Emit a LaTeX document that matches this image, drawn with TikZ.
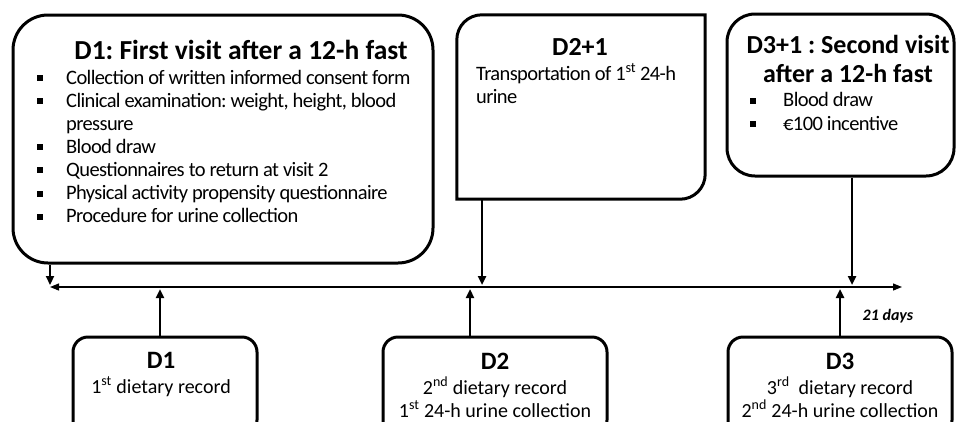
\documentclass[tikz,border=0pt]{standalone}
\usepackage{fontspec}
\setmainfont{Carlito}
\newfontfamily\bodyfont[LetterSpace=-3]{Carlito}
\usetikzlibrary{arrows.meta}
\newcommand\bsq{\rule[3pt]{6pt}{6pt}}
\tikzset{
  box/.style={draw=black, line width=3pt, inner sep=0pt},
  arr/.style={line width=2.4pt, -{Triangle[width=8pt,length=9pt]}},
  tl/.style={line width=1.2pt, {Triangle[width=7pt,length=9pt]}-{Triangle[width=7pt,length=9pt]}},
  txt/.style={inner sep=0pt, anchor=base west, font=\bodyfont\fontsize{20.5}{23}\selectfont},
  ttl/.style={inner sep=0pt, anchor=base, font=\fontsize{27.5}{30}\selectfont\bfseries},
  ttlb/.style={inner sep=0pt, anchor=base, font=\fontsize{26}{30}\selectfont\bfseries},
  bt/.style={inner sep=0pt, anchor=base, font=\fontsize{25}{26}\selectfont\bfseries},
  bl/.style={inner sep=0pt, anchor=base, font=\fontsize{20}{23}\selectfont},
}
\begin{document}
\frenchspacing
\begin{tikzpicture}[x=1pt,y=-1pt]
\useasboundingbox (0,0) rectangle (957,421);
\clip (0,0) rectangle (957,421);
% top boxes
\node[box, rounded corners=35pt, minimum width=420pt, minimum height=248pt] (v1) at (223,139) {};
\node[inner sep=0pt, minimum width=248pt, minimum height=184pt] (v2) at (581,107) {};
\draw[line width=3pt] (v2.south west) -- ([yshift=-25pt]v2.north west) arc[start angle=180,end angle=90,radius=25pt] -- (v2.north east) -- ([yshift=25pt]v2.south east) arc[start angle=0,end angle=-90,radius=25pt] -- cycle;
\node[box, rounded corners=28pt, minimum width=227pt, minimum height=162pt] (v3) at (840.5,95) {};
% box 1 text
\node[ttl] (t1) at (241,59) {D1: First visit after a 12-h fast};
\node[txt] (l1) at (37,84) {\makebox[29pt][l]{\bsq}Collection of written informed consent form};
\node[txt] (l2) at (37,107.1) {\makebox[29pt][l]{\bsq}Clinical examination: weight, height, blood};
\node[txt] (l3) at (66,130.2) {pressure};
\node[txt] (l4) at (37,153.3) {\makebox[29pt][l]{\bsq}Blood draw};
\node[txt] (l5) at (37,176.4) {\makebox[29pt][l]{\bsq}Questionnaires to return at visit 2};
\node[txt] (l6) at (37,199.5) {\makebox[29pt][l]{\bsq}Physical activity propensity questionnaire};
\node[txt] (l7) at (37,222.6) {\makebox[29pt][l]{\bsq}Procedure for urine collection};
% box 2 text
\node[ttlb] (t2) at (580,55) {D2+1};
\node[txt] (p1) at (476,80) {Transportation of 1\textsuperscript{st} 24-h};
\node[txt] (p2) at (476,103.5) {urine};
% box 3 text
\node[ttlb] (t3a) at (848,53.3) {D3+1 : Second visit};
\node[ttlb] (t3b) at (848,82) {after a 12-h fast};
\node[txt] (q1) at (750,106.7) {\makebox[33pt][l]{\bsq}Blood draw};
\node[txt] (q2) at (750,130) {\makebox[33pt][l]{\bsq}€100 incentive};
% bottom boxes
\node[box, rounded corners=15pt, minimum width=184pt, minimum height=98pt] (b1) at (165,386) {};
\node[box, rounded corners=15pt, minimum width=224pt, minimum height=98pt] (b2) at (495,386) {};
\node[box, rounded corners=15pt, minimum width=224pt, minimum height=98pt] (b3) at (840,386) {};
\node[bt] (n1) at (161,368) {D1};
\node[bl] (n1a) at (161,393) {1\textsuperscript{st} dietary record};
\node[bt] (n2) at (495,369) {D2};
\node[bl] (n2a) at (495,394) {2\textsuperscript{nd} dietary record};
\node[bl] (n2b) at (495,417) {1\textsuperscript{st} 24-h urine collection};
\node[bt] (n3) at (840,369) {D3};
\node[bl] (n3a) at (840,394) {3\textsuperscript{rd}\ \ dietary record};
\node[bl] (n3b) at (840,417) {2\textsuperscript{nd} 24-h urine collection};
% timeline
\coordinate (tL) at (50,287);
\coordinate (tR) at (902,287);
\draw[tl] (tL) -- (tR);
\node[inner sep=0pt, anchor=base, font=\fontsize{16}{18}\selectfont\bfseries\itshape] (days) at (888,320) {21 days};
% arrows down
\coordinate (d1) at (50,285);
\coordinate (d2) at (482,285);
\coordinate (d3) at (852,285);
\draw[arr] (d1 |- v1.south) -- (d1);
\draw[arr] (d2 |- v2.south) -- (d2);
\draw[arr] (d3 |- v3.south) -- (d3);
% arrows up
\coordinate (u1) at (160,289);
\coordinate (u2) at (470,289);
\coordinate (u3) at (840,289);
\draw[arr] (u1 |- b1.north) -- (u1);
\draw[arr] (u2 |- b2.north) -- (u2);
\draw[arr] (u3 |- b3.north) -- (u3);
\end{tikzpicture}
\end{document}
